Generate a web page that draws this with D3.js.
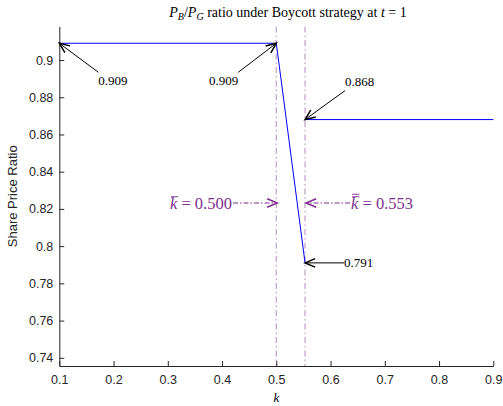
<!DOCTYPE html>
<html>
<head>
<meta charset="utf-8">
<script src="https://cdn.jsdelivr.net/npm/d3@7"></script>
<style>
  body { margin: 0; background: #fff; }
  svg { display: block; }
  .serif { font-family: "Liberation Serif", "DejaVu Serif", "Times New Roman", Times, serif; }
  .sans { font-family: "Liberation Sans", Arial, Helvetica, sans-serif; }
</style>
</head>
<body>
<div id="chart"></div>
<script>
// data
const kA = [0.1, 0.5, 0.553]
const ratioA = [0.909, 0.909, 0.791]
const kB = [0.553, 0.9]
const ratioB = [0.868, 0.868]
const kThresholds = [0.5, 0.553]
const xTicks = [0.1, 0.2, 0.3, 0.4, 0.5, 0.6, 0.7, 0.8, 0.9]
const yTicks = [0.74, 0.76, 0.78, 0.8, 0.82, 0.84, 0.86, 0.88, 0.9]
const pointLabels = [
  { k: 0.1, v: 0.909, text: "0.909" },
  { k: 0.5, v: 0.909, text: "0.909" },
  { k: 0.553, v: 0.868, text: "0.868" },
  { k: 0.553, v: 0.791, text: "0.791" }
]
const thresholdLabels = ["0.500", "0.553"]

const width = 503, height = 406
const margin = { left: 59.3, right: 9.7, top: 26.5, bottom: 40 }

const svg = d3.select("#chart").append("svg")
  .attr("width", width).attr("height", height)

const x = d3.scaleLinear().domain([0.1, 0.9]).range([margin.left, width - margin.right])
const y = d3.scaleLinear().domain([0.7356, 0.918]).range([height - margin.bottom, margin.top])

const axisColor = "#262626"
const purple = "#7e2f8e"
const lightPurple = "#cbacd2"

// threshold lines
svg.selectAll(".thr")
  .data(kThresholds)
  .enter().append("line")
  .attr("x1", d => x(d)).attr("x2", d => x(d))
  .attr("y1", y.range()[1]).attr("y2", y.range()[0])
  .attr("stroke", lightPurple)
  .attr("stroke-width", 1.4)
  .attr("stroke-dasharray", "6,3,1.5,3")

// series
const line = d3.line().x(d => x(d[0])).y(d => y(d[1]))
const seriesA = kA.map((k, i) => [k, ratioA[i]])
const seriesB = kB.map((k, i) => [k, ratioB[i]])
svg.selectAll(".series")
  .data([seriesA, seriesB])
  .enter().append("path")
  .attr("d", line)
  .attr("fill", "none")
  .attr("stroke", "#0000ff")
  .attr("stroke-width", 1)

// axes (ticks inside like matlab)
const xAxis = d3.axisBottom(x).tickValues(xTicks).tickSizeInner(-5).tickSizeOuter(0)
  .tickFormat(d3.format("~g"))
const yAxis = d3.axisLeft(y).tickValues(yTicks).tickSizeInner(-5).tickSizeOuter(0)
  .tickFormat(d3.format("~g"))

const gx = svg.append("g")
  .attr("transform", "translate(0," + y.range()[0] + ")")
  .call(xAxis)
const gy = svg.append("g")
  .attr("transform", "translate(" + x.range()[0] + ",0)")
  .call(yAxis)

;[gx, gy].forEach(g => {
  g.attr("font-family", null).attr("font-size", null)
  g.select(".domain").attr("stroke", axisColor).attr("stroke-width", 1)
  g.selectAll(".tick line").attr("stroke", axisColor)
  g.selectAll(".tick text")
    .attr("class", "sans")
    .attr("fill", axisColor)
    .style("font-size", "12.5px")
})
gx.selectAll(".tick text").attr("dy", "0.71em").attr("y", 9)
gy.selectAll(".tick text").attr("x", -6)

// axis labels
svg.append("text")
  .attr("class", "sans")
  .attr("transform", "translate(17," + ((y.range()[0] + y.range()[1]) / 2) + ") rotate(-90)")
  .attr("text-anchor", "middle")
  .style("font-size", "13px")
  .attr("fill", axisColor)
  .text("Share Price Ratio")

svg.append("text")
  .attr("class", "serif")
  .attr("x", (x.range()[0] + x.range()[1]) / 2)
  .attr("y", 402)
  .attr("text-anchor", "middle")
  .style("font-style", "italic")
  .style("font-size", "13px")
  .text("k")

// title
const title = svg.append("text")
  .attr("class", "serif")
  .attr("x", 288).attr("y", 17)
  .attr("text-anchor", "middle")
  .style("font-size", "14px")
  .attr("fill", "#000")
title.append("tspan").style("font-style", "italic").text("P")
title.append("tspan").attr("dy", 3).style("font-size", "10px").style("font-style", "italic").text("B")
title.append("tspan").attr("dy", -3).text("/")
title.append("tspan").style("font-style", "italic").text("P")
title.append("tspan").attr("dy", 3).style("font-size", "10px").style("font-style", "italic").text("G")
title.append("tspan").attr("dy", -3).text(" ratio under Boycott strategy at ")
title.append("tspan").style("font-style", "italic").text("t")
title.append("tspan").text(" = 1")

// arrows
function arrow(x1, y1, x2, y2, color, dash) {
  const g = svg.append("g")
  g.append("line")
    .attr("x1", x1).attr("y1", y1).attr("x2", x2).attr("y2", y2)
    .attr("stroke", color).attr("stroke-width", 1)
    .attr("stroke-dasharray", dash || null)
  const a = Math.atan2(y2 - y1, x2 - x1)
  const len = 11, spread = 0.4
  const pts = [a + Math.PI - spread, a + Math.PI + spread].map(t =>
    [x2 + len * Math.cos(t), y2 + len * Math.sin(t)])
  g.append("path")
    .attr("d", "M" + pts[0] + "L" + x2 + "," + y2 + "L" + pts[1])
    .attr("fill", "none")
    .attr("stroke", color)
    .attr("stroke-width", 1.5)
}

// tail offsets (px) and text side for each point label
const offsets = [
  { dx: 39, dy: 29, anchor: "start", ty: 8 },
  { dx: -38, dy: 29, anchor: "end", ty: 8 },
  { dx: 40, dy: -29, anchor: "start", ty: -9 },
  { dx: 39, dy: 0, anchor: "start", ty: 0 }
]
pointLabels.forEach((p, i) => {
  const o = offsets[i]
  const hx = x(p.k), hy = y(p.v)
  const tx = hx + o.dx, ty = hy + o.dy
  arrow(tx, ty, hx, hy, "#000")
  svg.append("text")
    .attr("class", "serif")
    .attr("x", tx)
    .attr("y", ty + o.ty)
    .attr("dy", "0.35em")
    .attr("text-anchor", o.anchor)
    .style("font-size", "13px")
    .text(p.text)
})

// threshold labels with bars over k
const labelY = 203
function kLabel(xPos, anchor, value, bars) {
  const t = svg.append("text")
    .attr("class", "serif")
    .attr("x", xPos).attr("y", labelY).attr("dy", "0.35em")
    .attr("text-anchor", anchor)
    .style("font-size", "16.5px")
    .attr("fill", purple)
  t.append("tspan").style("font-style", "italic").text("k")
  t.append("tspan").text(" = " + value)
  const node = t.node()
  const s = node.getStartPositionOfChar(0).x
  const e = node.getEndPositionOfChar(0).x
  const bb = node.getBBox()
  for (let b = 0; b < bars; b++) {
    svg.append("line")
      .attr("x1", s + 1).attr("x2", e + 1)
      .attr("y1", bb.y + 3 - b * 2.5).attr("y2", bb.y + 3 - b * 2.5)
      .attr("stroke", purple).attr("stroke-width", 0.9)
  }
}
kLabel(232, "end", thresholdLabels[0], 1)
arrow(233, labelY, x(kThresholds[0]) + 1, labelY, purple, "5,2,1.5,2")
kLabel(351, "start", thresholdLabels[1], 2)
arrow(350, labelY, x(kThresholds[1]) + 1, labelY, purple, "5,2,1.5,2")
</script>
</body>
</html>
